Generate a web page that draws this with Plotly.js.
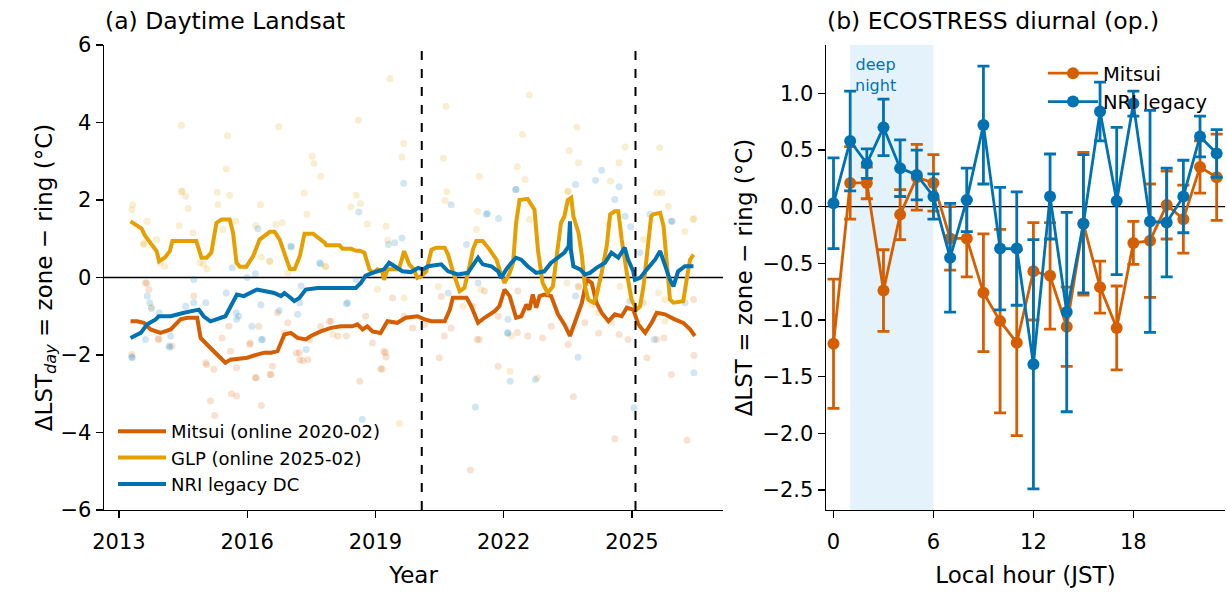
<!DOCTYPE html>
<html>
<head>
<meta charset="utf-8">
<script src="https://cdn.plot.ly/plotly-3.0.1.min.js"></script>
<style>
html,body{margin:0;padding:0;background:#fff;}
#chart{width:1227px;height:592px;}
</style>
</head>
<body>
<div id="chart"></div>
<script>
// ---------- Panel (a): rolling lines [decimal year, ΔLST °C] ----------
const mitsuiLine = [[2013.27,-1.13],[2013.43,-1.13],[2013.58,-1.17],[2013.74,-1.34],[2013.97,-1.43],[2014.21,-1.34],[2014.44,-1.08],[2014.60,-1.04],[2014.83,-1.04],[2014.91,-1.56],[2015.14,-1.82],[2015.30,-1.99],[2015.49,-2.20],[2015.61,-2.12],[2016.00,-2.07],[2016.23,-1.99],[2016.40,-1.94],[2016.56,-1.94],[2016.71,-1.90],[2016.87,-1.47],[2017.02,-1.43],[2017.18,-1.56],[2017.37,-1.60],[2017.49,-1.51],[2017.72,-1.39],[2017.96,-1.30],[2018.19,-1.26],[2018.46,-1.26],[2018.58,-1.21],[2018.70,-1.34],[2018.81,-1.26],[2018.93,-1.39],[2019.12,-1.43],[2019.28,-1.13],[2019.51,-1.17],[2019.71,-1.04],[2019.98,-1.00],[2020.15,-1.08],[2020.31,-1.13],[2020.62,-1.13],[2020.74,-0.83],[2020.81,-0.52],[2021.13,-0.52],[2021.24,-0.74],[2021.40,-1.17],[2021.55,-1.04],[2021.79,-0.87],[2021.90,-0.74],[2022.02,-0.31],[2022.14,-0.48],[2022.22,-0.83],[2022.29,-1.04],[2022.41,-1.00],[2022.53,-0.70],[2022.60,-0.83],[2022.68,-0.44],[2022.76,-0.78],[2022.84,-0.48],[2022.95,-0.44],[2023.11,-0.48],[2023.27,-0.95],[2023.42,-1.21],[2023.55,-1.51],[2023.62,-1.30],[2023.83,-0.65],[2023.94,-0.05],[2024.06,-0.14],[2024.17,-0.65],[2024.29,-0.91],[2024.45,-1.13],[2024.60,-0.95],[2024.76,-1.00],[2024.88,-0.78],[2025.03,-0.83],[2025.15,-1.21],[2025.31,-1.43],[2025.46,-1.17],[2025.58,-0.91],[2025.77,-0.95],[2026.00,-1.08],[2026.20,-1.17],[2026.36,-1.34],[2026.47,-1.51]];
const glpLine = [[2013.27,1.45],[2013.53,1.26],[2013.61,1.08],[2013.76,0.85],[2013.88,0.68],[2013.94,0.42],[2014.07,0.51],[2014.19,0.68],[2014.25,0.94],[2014.81,0.94],[2014.93,0.51],[2015.05,0.51],[2015.16,0.64],[2015.28,1.41],[2015.40,1.50],[2015.59,1.50],[2015.67,1.15],[2015.75,0.38],[2015.83,0.28],[2015.98,0.28],[2016.14,0.55],[2016.29,0.98],[2016.40,1.07],[2016.53,1.18],[2016.64,1.18],[2016.76,0.98],[2016.92,0.46],[2017.00,0.22],[2017.11,0.22],[2017.23,0.55],[2017.34,1.13],[2017.54,1.13],[2017.81,0.90],[2017.85,0.83],[2018.16,0.83],[2018.23,0.74],[2018.43,0.74],[2018.55,0.69],[2018.63,0.69],[2018.74,0.64],[2018.86,0.21],[2018.94,0.12],[2019.05,0.21],[2019.16,0.16],[2019.20,-0.06],[2019.28,0.21],[2019.55,0.21],[2019.67,0.68],[2019.79,0.34],[2019.90,0.21],[2019.98,-0.01],[2020.07,0.03],[2020.19,0.16],[2020.31,0.72],[2020.42,0.77],[2020.62,0.77],[2020.70,0.59],[2020.81,0.16],[2020.97,-0.35],[2021.08,-0.27],[2021.20,0.29],[2021.28,0.72],[2021.36,0.94],[2021.51,0.94],[2021.67,0.72],[2021.83,0.46],[2021.94,0.08],[2022.02,-0.14],[2022.14,0.12],[2022.22,0.38],[2022.29,1.41],[2022.37,2.00],[2022.56,2.03],[2022.72,1.75],[2022.80,0.72],[2022.91,-0.14],[2023.03,-0.40],[2023.15,-0.23],[2023.26,0.72],[2023.34,1.41],[2023.42,1.58],[2023.50,2.00],[2023.58,2.06],[2023.63,1.58],[2023.75,1.15],[2023.83,0.55],[2023.90,-0.23],[2023.98,-0.57],[2024.10,-0.65],[2024.17,-0.48],[2024.29,0.12],[2024.41,0.81],[2024.49,1.63],[2024.60,1.71],[2024.68,1.71],[2024.76,0.98],[2024.88,0.12],[2024.99,-0.57],[2025.11,-0.83],[2025.19,-0.74],[2025.27,-0.23],[2025.35,0.55],[2025.45,1.58],[2025.50,1.63],[2025.66,1.67],[2025.74,1.32],[2025.81,0.29],[2025.89,-0.57],[2025.97,-0.65],[2026.20,-0.61],[2026.28,-0.05],[2026.36,0.46],[2026.44,0.59]];
const nriLine = [[2013.27,-1.56],[2013.51,-1.43],[2013.66,-1.21],[2013.86,-1.08],[2013.93,-1.00],[2014.21,-1.00],[2014.52,-0.91],[2014.67,-0.87],[2014.87,-0.83],[2014.98,-1.00],[2015.14,-1.13],[2015.49,-1.00],[2015.61,-0.74],[2015.76,-0.44],[2015.92,-0.48],[2016.07,-0.40],[2016.23,-0.31],[2016.40,-0.35],[2016.63,-0.40],[2016.79,-0.48],[2016.87,-0.40],[2017.02,-0.53],[2017.10,-0.61],[2017.22,-0.53],[2017.37,-0.31],[2017.65,-0.27],[2018.11,-0.27],[2018.54,-0.27],[2018.66,-0.14],[2018.77,0.05],[2018.93,0.12],[2019.09,0.16],[2019.20,0.21],[2019.32,0.38],[2019.44,0.29],[2019.63,0.16],[2019.83,0.14],[2020.00,0.25],[2020.11,0.21],[2020.23,0.29],[2020.54,0.34],[2020.70,0.16],[2020.93,0.08],[2021.16,0.12],[2021.40,0.51],[2021.51,0.34],[2021.71,0.29],[2021.87,0.16],[2021.94,-0.01],[2022.06,0.21],[2022.18,0.38],[2022.29,0.51],[2022.41,0.46],[2022.56,0.29],[2022.76,0.12],[2022.95,0.16],[2023.11,0.38],[2023.27,0.51],[2023.42,0.64],[2023.52,0.81],[2023.55,1.45],[2023.57,0.72],[2023.63,0.29],[2023.79,0.21],[2023.90,0.08],[2024.02,0.12],[2024.17,0.25],[2024.37,0.38],[2024.52,0.64],[2024.68,0.51],[2024.83,0.77],[2024.91,0.46],[2025.03,0.16],[2025.07,-0.06],[2025.19,-0.01],[2025.35,0.21],[2025.54,0.46],[2025.66,0.68],[2025.77,0.34],[2025.89,-0.06],[2025.97,-0.23],[2026.08,0.16],[2026.24,0.29],[2026.44,0.29]];

// ---------- Panel (a): individual scenes (faint points) ----------
const mitsuiPts = [[2013.30,-1.99],[2013.65,-0.14],[2013.92,-1.58],[2015.05,-2.25],[2015.14,-3.19],[2015.24,-3.56],[2015.63,-3.0],[2015.75,-3.06],[2016.21,-2.59],[2016.33,-3.30],[2016.53,-2.50],[2016.59,-2.29],[2016.88,-1.43],[2017.23,-2.12],[2017.42,-2.12],[2018.63,-2.68],[2019.16,-2.36],[2019.25,-2.05],[2019.20,-1.90],[2016.06,-1.73],[2017.15,-1.95],[2017.46,-1.60],[2017.96,-1.13],[2018.12,-1.51],[2018.32,-1.51],[2020.49,-2.07],[2021.22,-4.97],[2021.87,-2.29],[2023.63,-3.08],[2023.51,-1.73],[2024.60,-4.16],[2025.35,-2.07],[2025.92,-2.50],[2026.29,-4.20],[2026.45,-2.01],[2019.87,-1.30],[2020.61,-1.51],[2021.43,-1.60],[2022.56,-1.51],[2024.70,-1.47],[2025.75,-1.56],[2013.62,-0.14],[2013.70,-0.31],[2013.93,-1.60],[2014.24,-1.77],[2014.75,-0.48],[2015.03,-2.20],[2015.41,-1.56],[2015.57,-1.26],[2015.61,-1.90],[2016.07,-1.69],[2016.27,-1.26],[2015.75,-2.33],[2016.19,-2.59],[2015.22,-2.37],[2016.71,-0.91],[2016.95,-1.17],[2017.30,-2.15],[2017.22,-1.94],[2016.56,-2.50],[2018.77,-1.00],[2019.23,-1.94],[2019.12,-2.36],[2018.93,-1.69],[2017.72,-1.26],[2017.92,-1.13],[2019.40,-0.53],[2019.67,-1.00],[2021.28,-0.74],[2021.55,-0.35],[2022.33,-0.35],[2020.54,-0.49],[2020.15,-1.21],[2020.77,-1.30],[2021.38,-1.60],[2021.87,-1.00],[2023.11,-1.26],[2022.91,-1.56],[2022.32,-1.42],[2023.90,-1.17],[2024.22,-1.43],[2024.91,-1.60],[2025.58,-1.60],[2026.44,-0.57],[2025.27,-0.65],[2023.75,-0.23]];
const glpPts = [[2013.32,1.88],[2013.30,1.75],[2013.66,1.45],[2013.58,0.88],[2013.88,0.98],[2013.96,0.38],[2014.46,3.93],[2014.46,2.21],[2014.56,2.10],[2014.62,1.78],[2014.41,1.34],[2014.73,1.15],[2014.89,0.38],[2015.54,3.66],[2015.51,2.80],[2015.59,2.12],[2015.30,2.20],[2015.32,1.88],[2015.43,1.24],[2015.73,1.45],[2016.31,1.88],[2016.20,1.34],[2016.74,3.89],[2016.67,1.37],[2016.82,1.41],[2016.53,0.42],[2016.33,0.53],[2017.33,2.19],[2017.40,1.63],[2017.52,3.13],[2017.56,2.94],[2017.72,2.61],[2017.83,0.28],[2018.42,1.82],[2018.55,2.12],[2018.65,1.91],[2018.60,4.06],[2018.81,1.38],[2019.25,1.32],[2019.29,0.96],[2019.34,5.13],[2019.62,3.11],[2019.66,3.46],[2020.65,4.42],[2020.59,3.08],[2020.67,2.21],[2020.63,1.99],[2021.43,2.61],[2021.39,1.71],[2022.60,4.71],[2022.44,3.69],[2022.32,2.86],[2022.50,2.53],[2023.53,3.28],[2023.71,3.88],[2023.75,2.96],[2023.49,2.21],[2024.84,3.37],[2024.70,2.96],[2024.50,2.49],[2025.65,3.35],[2025.58,2.19],[2026.45,1.52],[2026.24,1.19],[2022.15,-2.42],[2022.79,-2.59],[2019.56,-3.77],[2014.07,0.29],[2014.98,0.34],[2015.06,0.22],[2013.58,0.85],[2014.48,2.23],[2016.52,0.42],[2017.84,0.29],[2019.05,-0.30],[2019.67,-0.53],[2016.95,0.12],[2018.00,-1.47],[2020.47,-0.23],[2021.47,-0.31],[2021.05,-0.74],[2022.18,-1.51],[2021.36,1.24],[2022.60,1.50],[2024.45,1.37],[2025.27,0.98],[2024.72,-0.23],[2025.77,-1.13],[2024.53,-1.17],[2025.70,2.19],[2025.85,1.84],[2026.43,1.50],[2023.51,2.23],[2013.76,-0.77],[2023.48,-0.14],[2023.75,-0.23],[2024.06,-0.70],[2024.21,-0.91],[2025.62,-0.40],[2025.77,-0.57]];
const nriPts = [[2018.61,1.69],[2019.66,2.43],[2019.62,1.02],[2019.30,0.85],[2016.25,1.26],[2017.03,0.79],[2017.72,0.35],[2020.77,1.88],[2022.28,2.27],[2021.88,1.52],[2024.29,2.77],[2024.15,2.51],[2024.70,2.34],[2024.97,1.31],[2025.94,1.45],[2021.62,1.65],[2013.30,-2.05],[2013.66,-0.48],[2013.72,-0.65],[2013.94,-0.91],[2014.19,-1.80],[2015.51,-0.40],[2015.75,-1.08],[2016.33,-1.60],[2017.23,-0.65],[2017.38,-1.86],[2018.32,-0.68],[2018.55,-0.06],[2018.69,-3.66],[2021.34,-3.34],[2022.15,-2.68],[2022.74,-2.63],[2023.74,-2.06],[2025.05,-3.36],[2025.52,-1.60],[2026.45,-2.46],[2022.09,-1.43],[2015.65,0.25],[2016.00,0.00],[2016.19,0.10],[2013.76,-0.80],[2014.21,-1.51],[2014.17,-1.77],[2014.75,-0.05],[2015.03,-0.65],[2014.75,-0.65],[2015.74,-0.91],[2015.80,-1.00],[2016.11,-1.26],[2013.62,-1.60],[2013.31,-2.07],[2014.56,-0.74],[2017.02,0.81],[2017.69,0.38],[2019.45,0.90],[2018.35,-0.65],[2017.26,-0.22],[2016.75,-0.85],[2017.18,-0.95],[2016.32,-0.70],[2016.36,-1.60],[2021.59,1.63],[2021.13,0.85],[2021.40,-0.14],[2020.70,-0.40],[2022.10,-1.08],[2022.10,-1.43],[2023.68,2.40],[2024.60,2.01],[2024.84,1.58],[2025.42,1.63],[2025.92,1.45],[2025.19,0.64],[2023.68,-0.48],[2024.95,-0.61],[2026.24,-0.65],[2022.29,2.27]];

const onlineDates = [2020.083, 2025.083];   // Mitsui online 2020-02, GLP online 2025-02
const yearTicks = [2013, 2016, 2019, 2022, 2025];

// ---------- Panel (b): ECOSTRESS diurnal ----------
const hours = [0,1,2,3,4,5,6,7,8,9,10,11,12,13,14,15,16,17,18,19,20,21,22,23];
const mitsuiHour = [-1.21,0.21,0.21,-0.74,-0.07,0.26,0.21,-0.28,-0.28,-0.76,-1.01,-1.20,-0.57,-0.61,-1.06,-0.15,-0.71,-1.07,-0.32,-0.30,0.015,-0.11,0.35,0.26];
const mitsuiErr  = [0.57,0.32,0.14,0.36,0.22,0.29,0.25,0.28,0.34,0.52,0.81,0.82,0.43,0.47,0.35,0.63,0.23,0.37,0.19,0.50,0.30,0.30,0.23,0.38];
const nriHour = [0.03,0.58,0.38,0.70,0.34,0.28,0.09,-0.45,0.06,0.72,-0.37,-0.37,-1.39,0.09,-0.93,-0.15,0.84,0.05,0.91,-0.13,-0.14,0.09,0.62,0.47];
const nriErr  = [0.40,0.44,0.13,0.25,0.25,0.22,0.20,0.48,0.28,0.52,0.54,0.50,1.10,0.375,0.88,0.61,0.26,0.65,0.11,0.98,0.48,0.32,0.18,0.21];
const deepNight = [1, 6];
const hourTicks = [0, 6, 12, 18];

const C_MITSUI = '#D55E00', C_GLP = '#E69F00', C_NRI = '#0072B2';
const FONT = 'DejaVu Sans, sans-serif';
const col = (a, i) => a.map(p => p[i]);

function pts(arr, color) {
  return {x: col(arr,0), y: col(arr,1), type:'scatter', mode:'markers', xaxis:'x', yaxis:'y',
          marker:{color:color, size:7, opacity:0.18}, showlegend:false, hoverinfo:'skip'};
}
function line(arr, color, name) {
  return {x: col(arr,0), y: col(arr,1), type:'scatter', mode:'lines', xaxis:'x', yaxis:'y',
          line:{color:color, width:4}, name:name, legend:'legend'};
}
function hourTrace(y, e, color, name) {
  return {x: hours, y: y, type:'scatter', mode:'lines+markers', xaxis:'x2', yaxis:'y2', name:name, legend:'legend2',
          line:{color:color, width:2.8}, marker:{color:color, size:12},
          error_y:{type:'data', array:e, visible:true, color:color, thickness:2.8, width:6}};
}

const traces = [
  pts(mitsuiPts, C_MITSUI), pts(glpPts, C_GLP), pts(nriPts, C_NRI),
  line(mitsuiLine, C_MITSUI, 'Mitsui (online 2020-02)'),
  line(glpLine, C_GLP, 'GLP (online 2025-02)'),
  line(nriLine, C_NRI, 'NRI legacy DC'),
  hourTrace(mitsuiHour, mitsuiErr, C_MITSUI, 'Mitsui'),
  hourTrace(nriHour, nriErr, C_NRI, 'NRI legacy')
];

const axisBase = {showgrid:false, zeroline:false, showline:true, linecolor:'#000', linewidth:1.4,
  ticks:'outside', ticklen:7, tickwidth:1.4, tickcolor:'#000', mirror:false,
  tickfont:{family:FONT, size:21, color:'#000'}};

const W = 1227, TOP = 45, PH = 465;           // plot area: top 45px, height 465px
const py = px => 1 - (px - TOP) / PH;         // pixel row -> paper y

const shapes = [
  {type:'rect', xref:'x2', yref:'y2 domain', x0:deepNight[0], x1:deepNight[1], y0:0, y1:1,
   fillcolor:'rgba(86,180,233,0.16)', line:{width:0}, layer:'below'},
  {type:'line', xref:'x domain', yref:'y', x0:0, x1:1, y0:0, y1:0, line:{color:'#000', width:1.3}, layer:'below'},
  {type:'line', xref:'x2 domain', yref:'y2', x0:0, x1:1, y0:0, y1:0, line:{color:'#000', width:1.3}, layer:'below'}
].concat(onlineDates.map(d => ({type:'line', xref:'x', yref:'y domain', x0:d, x1:d, y0:0, y1:1,
   line:{color:'#000', width:2, dash:'dash'}})));

const layout = {
  width:1227, height:592, paper_bgcolor:'#fff', plot_bgcolor:'rgba(0,0,0,0)',
  margin:{l:0, r:0, t:TOP, b:82},
  font:{family:FONT, size:18, color:'#000'},
  xaxis: Object.assign({}, axisBase, {domain:[104/W, 723/W], range:[2012.65, 2027.13], tickvals:yearTicks,
         ticklabelstandoff:5, anchor:'y', title:{text:'Year', font:{family:FONT, size:23}, standoff:14}}),
  yaxis: Object.assign({}, axisBase, {range:[-6, 6], tickvals:[-6,-4,-2,0,2,4,6], anchor:'x',
         title:{text:'ΔLST<sub><i>day</i></sub> = zone − ring (°C)', font:{family:FONT, size:23}, standoff:0}}),
  xaxis2: Object.assign({}, axisBase, {domain:[826/W, 1225/W], range:[-0.45, 23.5], tickvals:hourTicks,
         ticklabelstandoff:5, anchor:'y2', title:{text:'Local hour (JST)', font:{family:FONT, size:23}, standoff:14}}),
  yaxis2: Object.assign({}, axisBase, {range:[-2.677, 1.427], tickvals:[-2.5,-2,-1.5,-1,-0.5,0,0.5,1], tickformat:'.1f',
         anchor:'x2', title:{text:'ΔLST = zone − ring (°C)', font:{family:FONT, size:23}, standoff:3}}),
  shapes: shapes,
  legend:{x:113/W, y:py(503), xanchor:'left', yanchor:'bottom', bgcolor:'rgba(255,255,255,0)',
          font:{family:FONT, size:18}, itemwidth:48, tracegroupgap:0, traceorder:'normal'},
  legend2:{x:1043/W, y:py(54), xanchor:'left', yanchor:'top', bgcolor:'rgba(255,255,255,0)',
          font:{family:FONT, size:19.5}, itemwidth:50, traceorder:'normal'},
  annotations:[
    {text:'(a) Daytime Landsat', xref:'paper', yref:'paper', x:103/W, y:py(5), xanchor:'left', yanchor:'top',
     showarrow:false, font:{family:FONT, size:23.5, color:'#000'}},
    {text:'(b) ECOSTRESS diurnal (op.)', xref:'paper', yref:'paper', x:825/W, y:py(5), xanchor:'left', yanchor:'top',
     showarrow:false, font:{family:FONT, size:23.5, color:'#000'}},
    {text:'deep<br>night', xref:'x2', yref:'y2', x:2.55, y:1.36, xanchor:'center', yanchor:'top', align:'center',
     showarrow:false, font:{family:FONT, size:16, color:C_NRI}}
  ],
  showlegend:true
};

Plotly.newPlot('chart', traces, layout, {staticPlot:true, displayModeBar:false});
</script>
</body>
</html>
